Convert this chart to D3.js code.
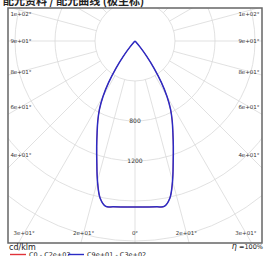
<!DOCTYPE html>
<html>
<head>
<meta charset="utf-8">
<script src="https://cdn.jsdelivr.net/npm/d3@7"></script>
<style>
  html, body { margin: 0; padding: 0; background: #fff; }
  svg { display: block; font-family: "DejaVu Sans", "Noto Sans CJK SC", sans-serif; }
</style>
</head>
<body>
<div class="chart-section"></div>
<script>
// gamma angles (deg, 0 = straight down) and intensity in cd/klm
const angles = [0, 2.5, 5, 7.5, 10, 12.5, 15, 17.5, 20, 22.5, 25, 27.5, 30, 32.5, 35, 37.5, 40, 42.5, 45];
const c0c180 = [1660, 1662, 1666, 1672, 1680, 1610, 1450, 1270, 1120, 990, 880, 770, 640, 490, 330, 190, 80, 20, 0];
const c90c270 = [1660, 1662, 1666, 1672, 1680, 1610, 1450, 1270, 1120, 990, 880, 770, 640, 490, 330, 190, 80, 20, 0];

const rings = [400, 800, 1200, 1600, 2000, 2400, 2800];
const ringLabels = [800, 1200];
const spokes = d3.range(-180, 181, 15);
const labelledSpokes = [-105, -90, -75, -60, -45, -30, -15, 0, 15, 30, 45, 60, 75, 90, 105];
const spokeLabels = ["1e+02", "9e+01", "8e+01", "6e+01", "4e+01", "3e+01", "2e+01", "0",
  "2e+01", "3e+01", "4e+01", "6e+01", "8e+01", "9e+01", "1e+02"];

const legendItems = [
  { name: "C0 - C2e+02", color: "#e0333a", x: 10 },
  { name: "C9e+01 - C3e+02", color: "#2b2bc4", x: 68 },
];

const width = 264;
const height = 256;
const frame = { x0: 8, y0: 8, x1: 262, y1: 243 };
const cx = 135;
const cy = 41;

const r = d3.scaleLinear().domain([0, 2000]).range([0, 200]);

// angle 0 points down, positive to the right
const px = (a, v) => cx + r(v) * Math.sin((a * Math.PI) / 180);
const py = (a, v) => cy + r(v) * Math.cos((a * Math.PI) / 180);

const svg = d3
  .select(".chart-section")
  .append("svg")
  .attr("width", width)
  .attr("height", height)
  .attr("viewBox", [0, 0, width, height]);

svg
  .append("defs")
  .append("clipPath")
  .attr("id", "clip")
  .append("rect")
  .attr("x", frame.x0)
  .attr("y", frame.y0)
  .attr("width", frame.x1 - frame.x0)
  .attr("height", frame.y1 - frame.y0);

const grid = svg.append("g").attr("clip-path", "url(#clip)");

grid
  .selectAll("circle")
  .data(rings)
  .join("circle")
  .attr("cx", cx)
  .attr("cy", cy)
  .attr("r", (d) => r(d))
  .attr("fill", "none")
  .attr("stroke", "#d9d9d9")
  .attr("stroke-width", 0.8);

grid
  .selectAll("line")
  .data(spokes)
  .join("line")
  .attr("x1", (d) => px(d, rings[0]))
  .attr("y1", (d) => py(d, rings[0]))
  .attr("x2", (d) => px(d, 4000))
  .attr("y2", (d) => py(d, 4000))
  .attr("stroke", "#d9d9d9")
  .attr("stroke-width", 0.8);

// curves, mirrored left/right
const curve = (vals) => {
  const pts = angles.map((a, i) => [a, vals[i]]);
  const left = pts.slice(1).map(([a, v]) => [-a, v]).reverse();
  return left.concat(pts);
};

const line = d3
  .line()
  .x((d) => px(d[0], d[1]))
  .y((d) => py(d[0], d[1]))
  .curve(d3.curveCatmullRom);

svg
  .append("path")
  .datum(curve(c0c180))
  .attr("d", line)
  .attr("fill", "none")
  .attr("stroke", legendItems[0].color)
  .attr("stroke-width", 0.8);

svg
  .append("path")
  .datum(curve(c90c270))
  .attr("d", line)
  .attr("fill", "none")
  .attr("stroke", legendItems[1].color)
  .attr("stroke-width", 1.5);

// ring labels along the 0 deg spoke
svg
  .selectAll(".rlabel")
  .data(ringLabels)
  .join("text")
  .attr("class", "rlabel")
  .attr("x", cx)
  .attr("y", (d) => py(0, d) + 2)
  .attr("text-anchor", "middle")
  .attr("font-size", 6)
  .attr("fill", "#333")
  .text((d) => d);

// angle labels where spokes meet the inner box
const inner = { x0: 21, x1: 249, y1: 233 };
const labelPos = (a) => {
  const s = Math.sin((a * Math.PI) / 180);
  const c = Math.cos((a * Math.PI) / 180);
  let t = Infinity;
  if (s < 0) t = Math.min(t, (inner.x0 - cx) / s);
  if (s > 0) t = Math.min(t, (inner.x1 - cx) / s);
  if (c > 0) t = Math.min(t, (inner.y1 - cy) / c);
  return [cx + t * s, Math.max(cy + t * c, 14)];
};

svg
  .selectAll(".alabel")
  .data(labelledSpokes)
  .join("text")
  .attr("class", "alabel")
  .attr("x", (d) => labelPos(d)[0])
  .attr("y", (d) => labelPos(d)[1] + 2)
  .attr("text-anchor", "middle")
  .attr("font-size", 5.5)
  .attr("fill", "#333")
  .text((d, i) => spokeLabels[i] + "°");

svg
  .append("rect")
  .attr("x", frame.x0)
  .attr("y", frame.y0)
  .attr("width", frame.x1 - frame.x0)
  .attr("height", frame.y1 - frame.y0)
  .attr("fill", "none")
  .attr("stroke", "#666")
  .attr("stroke-width", 1.5);

svg
  .append("text")
  .attr("x", 3)
  .attr("y", 5)
  .attr("font-size", 11)
  .attr("font-weight", "bold")
  .attr("font-family", "Noto Sans CJK SC")
  .attr("fill", "#222")
  .text("配光资料 / 配光曲线 (极坐标)");

svg
  .append("text")
  .attr("x", 9)
  .attr("y", 250)
  .attr("font-size", 8)
  .attr("fill", "#222")
  .text("cd/klm");

const eta = svg
  .append("text")
  .attr("x", 263)
  .attr("y", 249)
  .attr("text-anchor", "end")
  .attr("font-size", 6.5)
  .attr("fill", "#222");
eta.append("tspan").attr("font-style", "italic").attr("font-size", 8).text("η");
eta.append("tspan").text(" =100%");

const legend = svg
  .selectAll(".legend")
  .data(legendItems)
  .join("g")
  .attr("class", "legend")
  .attr("transform", (d) => `translate(${d.x}, 254.5)`);

legend
  .append("line")
  .attr("x1", 0)
  .attr("x2", 16)
  .attr("stroke", (d) => d.color)
  .attr("stroke-width", 1.4);

legend
  .append("text")
  .attr("x", 19)
  .attr("y", 2.5)
  .attr("font-size", 6.5)
  .attr("fill", "#222")
  .text((d) => d.name);
</script>
</body>
</html>
